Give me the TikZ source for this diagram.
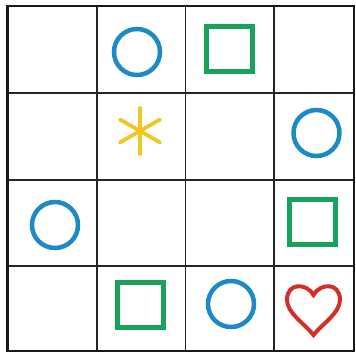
\documentclass[tikz,border=0pt]{standalone}
\usetikzlibrary{calc}
\definecolor{cblue}{HTML}{1B8AC6}
\definecolor{cgreen}{HTML}{17A35C}
\definecolor{cyellow}{HTML}{F2C522}
\definecolor{cred}{HTML}{D42E2A}
\begin{document}
\begin{tikzpicture}[x=1pt,y=-1pt,
  ring/.style={circle,draw=cblue,line width=4.5pt,minimum size=46pt,inner sep=0pt},
  sq/.style={rectangle,draw=cgreen,line width=5pt,minimum width=46pt,minimum height=45pt,inner sep=0pt},
  star/.style={draw=cyellow,line width=3.8pt,line cap=round},
  heartline/.style={draw=cred,line width=4pt,line join=miter}]
\useasboundingbox (0,0) rectangle (356,354);
\fill[white] (0,0) rectangle (356,354);
% grid
\foreach \x in {97,185.5,274} \draw[line width=1.1pt,black!85] (\x,6) -- (\x,351);
\foreach \y in {93,180,266} \draw[line width=1.1pt,black!85] (7.5,\y) -- (354,\y);
\draw[line width=2.6pt,black!90] (7.5,6) rectangle (354,351);
% symbols
\node[ring] (c12) at (137,52) {};
\node[sq] (s13) at (229,49) {};
\coordinate (a22) at (140,131);
\draw[star] ($(a22)+(0,-23)$) -- ($(a22)+(0,23)$);
\draw[star] ($(a22)+(-20,-11.5)$) -- ($(a22)+(20,11.5)$);
\draw[star] ($(a22)+(-20,11.5)$) -- ($(a22)+(20,-11.5)$);
\node[ring] (c24) at (316.5,133) {};
\node[ring] (c31) at (55,225) {};
\node[sq] (s34) at (312.5,222) {};
\node[sq] (s42) at (140,305) {};
\node[ring] (c43) at (231,304) {};
\coordinate (h44) at (313.5,0);
\draw[heartline] (313.5,295) .. controls (307,283) and (287,282) .. (287,300)
  .. controls (287,313) and (306,325) .. (313.5,335)
  .. controls (321,325) and (340,313) .. (340,300)
  .. controls (340,282) and (320,283) .. (313.5,295) -- cycle;
\end{tikzpicture}
\end{document}
